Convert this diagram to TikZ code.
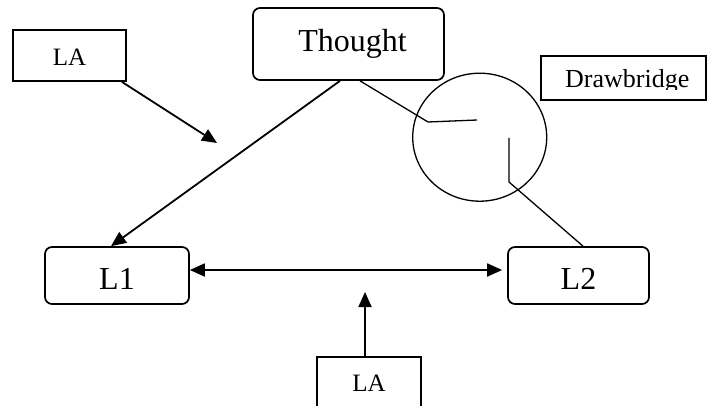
\documentclass[tikz,border=0pt]{standalone}
\usepackage{fontspec}
\setmainfont{Liberation Serif}
\usetikzlibrary{arrows.meta,shapes.geometric}
\tikzset{
  box/.style={draw, line width=1.7pt, inner sep=0pt},
  rbox/.style={box, rounded corners=7pt},
  conn/.style={line width=1.8pt},
  thinconn/.style={line width=1.3pt},
  tip/.style={-{Triangle[length=15pt,width=13pt]}},
  bitip/.style={{Triangle[length=15pt,width=13pt]}-{Triangle[length=15pt,width=13pt]}},
  bigtext/.style={font=\fontsize{32}{36}\selectfont},
  latext/.style={font=\fontsize{25}{28}\selectfont}
}
\begin{document}
\begin{tikzpicture}[x=1pt,y=-1pt]
\useasboundingbox (0,0) rectangle (708,406);
% nodes
\node[rbox, bigtext, minimum width=191pt, minimum height=72pt] (th) at (348.5,44) {\hspace{8pt}Thought};
\node[box, latext, minimum width=113pt, minimum height=51pt, text height=20pt, text depth=0pt] (la1) at (69.5,55.5) {LA};
\node[rbox, bigtext, minimum width=144pt, minimum height=57pt, text height=27pt, text depth=0pt] (l1) at (117,275.5) {L1};
\node[rbox, bigtext, minimum width=141pt, minimum height=57pt, text height=27pt, text depth=0pt] (l2) at (578.5,275.5) {L2};
\node[box, minimum width=165pt, minimum height=44pt] (db) at (623.5,78) {};
\begin{scope}
  \clip (541,56) rectangle (706,90);
  \node[inner sep=0pt, anchor=base west, font=\fontsize{26}{30}\selectfont] (dbt) at (565,88) {Drawbridge};
\end{scope}
\node[draw, ellipse, line width=1.3pt, minimum width=134pt, minimum height=128pt, inner sep=0pt] (circ) at (479.7,137.2) {};
\node[box, latext, anchor=north, minimum width=104pt, minimum height=70pt, text height=8pt, text depth=8pt] (la2) at (369,356) {LA};
% free coordinates
\coordinate (k1) at (428,122);
\coordinate (k2) at (477,120);
\coordinate (k3) at (509,138);
\coordinate (k4) at (509,182);
\coordinate (t1) at (217,143);
\coordinate (t2) at (365,292);
% connectors
\draw[conn, tip] ([xshift=-8.5pt]th.south) -- ([xshift=-6pt]l1.north);
\draw[thinconn] ([xshift=11.5pt]th.south) -- (k1) -- (k2);
\draw[thinconn] (k3) -- (k4) -- ([xshift=4.5pt]l2.north);
\draw[conn, tip] ([xshift=-5pt]la1.south east) -- (t1);
\draw[conn, bitip] ([yshift=5.5pt]l1.east) -- ([yshift=5.5pt,xshift=-5pt]l2.west);
\draw[conn, tip] ([xshift=-4pt]la2.north) -- (t2);
\end{tikzpicture}
\end{document}
